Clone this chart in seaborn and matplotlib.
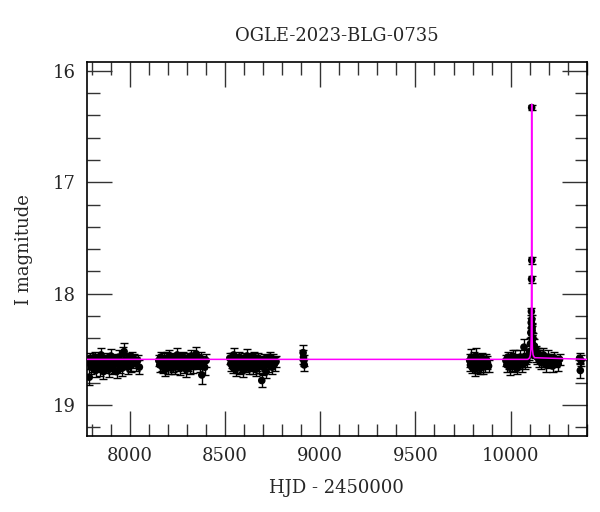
import numpy as np
import pandas as pd
import seaborn as sns
import matplotlib.pyplot as plt
from matplotlib.ticker import MultipleLocator

# OGLE photometry, season by season (HJD - 2450000, I mag, error)
s1_t = [7781, 7787, 7792, 7798, 7803, 7809, 7815, 7820, 7826, 7832, 7838, 7843,
        7849, 7855, 7861, 7866, 7872, 7878, 7884, 7890, 7895, 7901, 7907, 7913,
        7918, 7924, 7930, 7936, 7941, 7947, 7953, 7959, 7964, 7970, 7976, 7982,
        7988, 7993, 7999, 8005, 8011, 8017, 8023, 8030, 8041, 8050]
s1_mag = [18.62, 18.75, 18.58, 18.66, 18.60, 18.63, 18.57, 18.69, 18.61, 18.64, 18.59, 18.67,
          18.55, 18.62, 18.70, 18.60, 18.65, 18.58, 18.63, 18.68, 18.61, 18.56, 18.66, 18.60,
          18.64, 18.59, 18.70, 18.62, 18.57, 18.65, 18.61, 18.67, 18.54, 18.52, 18.63, 18.60,
          18.66, 18.58, 18.62, 18.64, 18.57, 18.61, 18.59, 18.63, 18.60, 18.66]
s1_err = [0.06, 0.07, 0.05, 0.06, 0.05, 0.07, 0.05, 0.06, 0.05, 0.06, 0.05, 0.07,
          0.06, 0.05, 0.07, 0.05, 0.06, 0.05, 0.06, 0.07, 0.05, 0.06, 0.06, 0.05,
          0.07, 0.05, 0.06, 0.05, 0.06, 0.06, 0.05, 0.07, 0.06, 0.08, 0.05, 0.06,
          0.06, 0.05, 0.07, 0.06, 0.05, 0.06, 0.05, 0.06, 0.05, 0.06]

s2_t = [8152, 8157, 8162, 8167, 8172, 8177, 8182, 8187, 8193, 8198, 8203, 8208,
        8213, 8218, 8224, 8229, 8234, 8239, 8244, 8249, 8255, 8260, 8265, 8270,
        8275, 8280, 8286, 8291, 8296, 8301, 8306, 8311, 8317, 8322, 8327, 8332,
        8337, 8342, 8348, 8353, 8358, 8366, 8372, 8378, 8386, 8393, 8401]
s2_mag = [18.60, 18.64, 18.57, 18.62, 18.66, 18.59, 18.63, 18.68, 18.58, 18.61, 18.65, 18.56,
          18.62, 18.67, 18.60, 18.63, 18.58, 18.66, 18.61, 18.55, 18.64, 18.60, 18.67, 18.59,
          18.62, 18.57, 18.65, 18.61, 18.68, 18.58, 18.63, 18.60, 18.66, 18.56, 18.62, 18.64,
          18.59, 18.61, 18.54, 18.63, 18.60, 18.65, 18.58, 18.73, 18.62, 18.66, 18.60]
s2_err = [0.05, 0.06, 0.05, 0.07, 0.05, 0.06, 0.05, 0.06, 0.06, 0.05, 0.07, 0.05,
          0.06, 0.05, 0.06, 0.07, 0.05, 0.06, 0.05, 0.06, 0.05, 0.07, 0.06, 0.05,
          0.06, 0.05, 0.06, 0.05, 0.07, 0.05, 0.06, 0.05, 0.06, 0.05, 0.06, 0.07,
          0.05, 0.06, 0.06, 0.05, 0.06, 0.05, 0.06, 0.08, 0.06, 0.07, 0.06]

s3_t = [8525, 8530, 8535, 8540, 8545, 8550, 8555, 8560, 8565, 8570, 8575, 8580,
        8585, 8590, 8595, 8600, 8605, 8610, 8615, 8620, 8625, 8630, 8635, 8640,
        8645, 8650, 8655, 8660, 8665, 8670, 8675, 8680, 8685, 8693, 8698, 8704,
        8710, 8716, 8722, 8728, 8734, 8740, 8747, 8753, 8760, 8768]
s3_mag = [18.58, 18.63, 18.60, 18.66, 18.55, 18.62, 18.68, 18.59, 18.64, 18.61, 18.57, 18.66,
          18.60, 18.63, 18.69, 18.58, 18.62, 18.65, 18.56, 18.61, 18.67, 18.59, 18.64, 18.60,
          18.66, 18.57, 18.62, 18.68, 18.60, 18.63, 18.58, 18.65, 18.61, 18.78, 18.66, 18.59,
          18.63, 18.70, 18.60, 18.64, 18.57, 18.62, 18.66, 18.59, 18.63, 18.61]
s3_err = [0.05, 0.06, 0.07, 0.05, 0.06, 0.05, 0.06, 0.05, 0.07, 0.06, 0.05, 0.06,
          0.05, 0.07, 0.06, 0.05, 0.06, 0.05, 0.06, 0.07, 0.05, 0.06, 0.05, 0.06,
          0.06, 0.05, 0.07, 0.06, 0.05, 0.06, 0.05, 0.06, 0.05, 0.06, 0.07, 0.05,
          0.06, 0.06, 0.05, 0.06, 0.05, 0.06, 0.06, 0.05, 0.06, 0.05]

s4_t = [8910, 8912, 8914, 8916]
s4_mag = [18.53, 18.57, 18.60, 18.64]
s4_err = [0.07, 0.06, 0.05, 0.05]

s5_t = [9785, 9789, 9793, 9797, 9801, 9805, 9809, 9813, 9817, 9821, 9825, 9829,
        9833, 9837, 9841, 9845, 9850, 9855, 9860, 9866, 9872, 9878, 9884]
s5_mag = [18.60, 18.64, 18.57, 18.66, 18.61, 18.58, 18.63, 18.68, 18.56, 18.62, 18.65, 18.59,
          18.62, 18.67, 18.60, 18.63, 18.58, 18.66, 18.61, 18.64, 18.59, 18.62, 18.65]
s5_err = [0.06, 0.05, 0.07, 0.05, 0.06, 0.06, 0.05, 0.06, 0.07, 0.05, 0.06, 0.05,
          0.06, 0.05, 0.06, 0.07, 0.05, 0.06, 0.05, 0.06, 0.05, 0.06, 0.05]

s6_t = [9975, 9980, 9985, 9990, 9995, 10000, 10005, 10010, 10015, 10020, 10025, 10030,
        10035, 10040, 10045, 10050, 10055, 10060, 10065, 10070, 10075, 10080, 10085, 10090,
        10096, 10100, 10104, 10106, 10108, 10109, 10110, 10110.5, 10111, 10111.5, 10112,
        10113, 10114, 10115, 10117, 10120, 10124, 10127, 10131, 10135, 10140, 10145, 10150,
        10155, 10160, 10166, 10172, 10178, 10184, 10190, 10197, 10204, 10212, 10220, 10230,
        10240, 10250, 10257]
s6_mag = [18.60, 18.64, 18.57, 18.62, 18.66, 18.59, 18.63, 18.56, 18.61, 18.65, 18.58, 18.62,
          18.67, 18.60, 18.63, 18.57, 18.61, 18.64, 18.59, 18.48, 18.62, 18.58, 18.60, 18.56,
          18.55, 18.52, 18.45, 18.35, 18.26, 18.16, 17.87, 16.33, 17.70, 18.23, 18.30,
          18.33, 18.41, 18.45, 18.40, 18.50, 18.47, 18.53, 18.55, 18.52, 18.57, 18.54, 18.60,
          18.56, 18.62, 18.58, 18.55, 18.61, 18.64, 18.59, 18.57, 18.62, 18.60, 18.65, 18.58,
          18.61, 18.63, 18.59]
s6_err = [0.05, 0.06, 0.05, 0.06, 0.07, 0.05, 0.06, 0.05, 0.06, 0.05, 0.07, 0.06,
          0.05, 0.06, 0.05, 0.06, 0.05, 0.06, 0.05, 0.07, 0.06, 0.05, 0.06, 0.05,
          0.05, 0.05, 0.05, 0.04, 0.04, 0.03, 0.03, 0.02, 0.03, 0.04, 0.04,
          0.04, 0.04, 0.05, 0.05, 0.05, 0.06, 0.05, 0.06, 0.05, 0.06, 0.05, 0.06,
          0.05, 0.06, 0.05, 0.06, 0.05, 0.06, 0.05, 0.06, 0.05, 0.06, 0.05, 0.06,
          0.05, 0.06, 0.05]

s7_t = [10362, 10366, 10370]
s7_mag = [18.58, 18.69, 18.60]
s7_err = [0.05, 0.07, 0.05]

# microlensing model curve
model_t = [7775, 10090, 10100, 10104, 10106.5, 10108.2, 10109.3, 10110.0, 10110.5,
           10111.0, 10111.7, 10112.8, 10114.5, 10118, 10125, 10400]
model_mag = [18.59, 18.59, 18.575, 18.55, 18.50, 18.38, 18.10, 17.40, 16.30,
             17.40, 18.10, 18.38, 18.50, 18.55, 18.575, 18.59]

phot = pd.DataFrame({
    'hjd': s1_t + s2_t + s3_t + s4_t + s5_t + s6_t + s7_t,
    'mag': s1_mag + s2_mag + s3_mag + s4_mag + s5_mag + s6_mag + s7_mag,
    'err': s1_err + s2_err + s3_err + s4_err + s5_err + s6_err + s7_err,
})
model = pd.DataFrame({'hjd': model_t, 'mag': model_mag})

sns.set_style('ticks')
plt.rcParams['font.family'] = ['DejaVu Serif']

fig = plt.figure(figsize=(6, 5.12), dpi=100)
ax = fig.add_axes([0.145, 0.148, 0.833, 0.731])

ax.errorbar(phot['hjd'], phot['mag'], yerr=phot['err'], fmt='none',
            ecolor='black', elinewidth=1.0, capsize=2.8, capthick=1.0, zorder=2)
sns.scatterplot(data=phot, x='hjd', y='mag', ax=ax, color='black', s=30,
                edgecolor='none', zorder=3)
sns.lineplot(data=model, x='hjd', y='mag', ax=ax, color='#ff00ff', lw=1.1,
             sort=False, estimator=None, zorder=4)

ax.set_xlim(7775, 10400)
ax.set_ylim(19.28, 15.92)
ax.xaxis.set_major_locator(MultipleLocator(500))
ax.xaxis.set_minor_locator(MultipleLocator(100))
ax.yaxis.set_major_locator(MultipleLocator(1))
ax.yaxis.set_minor_locator(MultipleLocator(0.2))
ax.tick_params(which='both', direction='in', top=True, right=True,
               labelsize=13, color='#333333')
ax.tick_params(which='major', length=18, width=1.0, pad=8)
ax.tick_params(which='minor', length=9, width=1.0)
for sp in ax.spines.values():
    sp.set_linewidth(1.2)
    sp.set_color('black')

ax.set_title('OGLE-2023-BLG-0735', fontsize=13, pad=15)
ax.set_xlabel('HJD - 2450000', fontsize=13, labelpad=10)
ax.set_ylabel('I magnitude', fontsize=13, labelpad=14)

fig.savefig('out.png', dpi=100)
